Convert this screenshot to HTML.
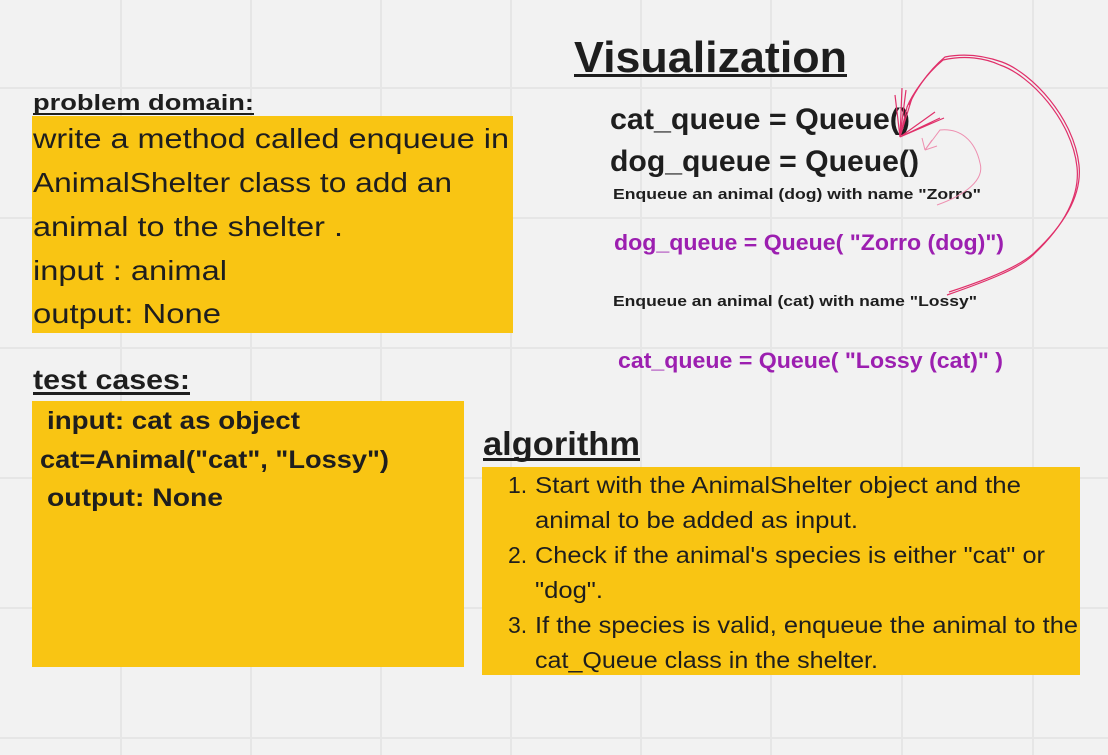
<!DOCTYPE html>
<html><head><meta charset="utf-8"><style>
html,body{margin:0;padding:0;background:#f2f2f2;}
svg{display:block}
text{font-family:"Liberation Sans","DejaVu Sans",sans-serif;}
</style></head><body>
<svg width="1108" height="755" viewBox="0 0 1108 755" xmlns="http://www.w3.org/2000/svg">
<rect width="1108" height="755" fill="#f2f2f2"/>
<g stroke="#e6e6e6" stroke-width="2">
<line x1="121" y1="0" x2="121" y2="755"/><line x1="251" y1="0" x2="251" y2="755"/><line x1="381" y1="0" x2="381" y2="755"/><line x1="511" y1="0" x2="511" y2="755"/><line x1="641" y1="0" x2="641" y2="755"/><line x1="771" y1="0" x2="771" y2="755"/><line x1="902" y1="0" x2="902" y2="755"/><line x1="1033" y1="0" x2="1033" y2="755"/>
<line x1="0" y1="88" x2="1108" y2="88"/><line x1="0" y1="218" x2="1108" y2="218"/><line x1="0" y1="348" x2="1108" y2="348"/><line x1="0" y1="478" x2="1108" y2="478"/><line x1="0" y1="608" x2="1108" y2="608"/><line x1="0" y1="738" x2="1108" y2="738"/>
</g>
<rect x="32" y="116" width="481" height="217" fill="#f9c513"/>
<rect x="32" y="401" width="432" height="266" fill="#f9c513"/>
<rect x="482" y="467" width="598" height="208" fill="#f9c513"/>

<g fill="#1e1e1e">
<text x="574" y="72" font-size="44" font-weight="bold" textLength="273" lengthAdjust="spacingAndGlyphs">Visualization</text>
<rect x="574" y="74" width="273" height="3"/>
<text x="33" y="110" font-size="22" font-weight="bold" textLength="221" lengthAdjust="spacingAndGlyphs">problem domain:</text>
<rect x="33" y="113" width="221" height="2"/>
<g font-size="28">
<text x="33" y="148" textLength="476" lengthAdjust="spacingAndGlyphs">write a method called enqueue in</text>
<text x="33" y="192" textLength="419" lengthAdjust="spacingAndGlyphs">AnimalShelter class to add an</text>
<text x="33" y="236" textLength="310" lengthAdjust="spacingAndGlyphs">animal to the shelter .</text>
<text x="33" y="280" textLength="194" lengthAdjust="spacingAndGlyphs">input : animal</text>
<text x="33" y="323" textLength="188" lengthAdjust="spacingAndGlyphs">output: None</text>
</g>
<text x="33" y="389" font-size="28" font-weight="bold" textLength="157" lengthAdjust="spacingAndGlyphs">test cases:</text>
<rect x="33" y="392" width="157" height="3"/>
<g font-size="25" font-weight="bold">
<text x="47" y="429" textLength="253" lengthAdjust="spacingAndGlyphs">input: cat as object</text>
<text x="40" y="468" textLength="349" lengthAdjust="spacingAndGlyphs">cat=Animal("cat", "Lossy")</text>
<text x="47" y="506" textLength="176" lengthAdjust="spacingAndGlyphs">output: None</text>
</g>
<text x="483" y="455" font-size="33" font-weight="bold" textLength="157" lengthAdjust="spacingAndGlyphs">algorithm</text>
<rect x="483" y="458" width="157" height="3"/>
<g font-size="23">
<text x="508" y="493">1.</text>
<text x="535" y="493" textLength="486" lengthAdjust="spacingAndGlyphs">Start with the AnimalShelter object and the</text>
<text x="535" y="528" textLength="323" lengthAdjust="spacingAndGlyphs">animal to be added as input.</text>
<text x="508" y="563">2.</text>
<text x="535" y="563" textLength="510" lengthAdjust="spacingAndGlyphs">Check if the animal's species is either "cat" or</text>
<text x="535" y="598" textLength="68" lengthAdjust="spacingAndGlyphs">"dog".</text>
<text x="508" y="633">3.</text>
<text x="535" y="633" textLength="543" lengthAdjust="spacingAndGlyphs">If the species is valid, enqueue the animal to the</text>
<text x="535" y="668" textLength="343" lengthAdjust="spacingAndGlyphs">cat_Queue class in the shelter.</text>
</g>
<g font-weight="bold">
<text x="610" y="129" font-size="30" textLength="300" lengthAdjust="spacingAndGlyphs">cat_queue = Queue()</text>
<text x="610" y="171" font-size="30" textLength="309" lengthAdjust="spacingAndGlyphs">dog_queue = Queue()</text>
<text x="613" y="199" font-size="15" textLength="368" lengthAdjust="spacingAndGlyphs">Enqueue an animal (dog) with name "Zorro"</text>
<text x="613" y="306" font-size="15" textLength="364" lengthAdjust="spacingAndGlyphs">Enqueue an animal (cat) with name "Lossy"</text>
</g>
</g>
<g fill="#9c1fb0" font-weight="bold" font-size="22">
<text x="614" y="250" textLength="390" lengthAdjust="spacingAndGlyphs">dog_queue = Queue( "Zorro (dog)")</text>
<text x="618" y="368" textLength="385" lengthAdjust="spacingAndGlyphs">cat_queue = Queue( "Lossy (cat)" )</text>
</g>
<g fill="none" stroke="#e0306a" stroke-width="1.2">
<path d="M947 295 C990 280 1020 268 1033 255 C1065 225 1080 195 1077 167 C1072 120 1030 75 1000 65 C985 58 965 55 943 60 C925 75 912 95 907 107 L900 137"/>
<path d="M949 292 C992 278 1022 265 1035 252 C1067 222 1082 193 1079 165 C1074 118 1032 73 1002 62 C985 56 965 53 945 57 C927 72 914 93 909 105"/>
<path d="M900 137 L895 95 M900 137 L902 88 M900 137 L906 90 M900 137 L912 98 M900 137 L935 112 M900 137 L940 118 M900 137 L944 118"/>
</g>
<g fill="none" stroke="#ee8fb0" stroke-width="1">
<path d="M937 205 C965 195 985 180 980 163 C975 140 960 128 940 130 L925 150"/>
<path d="M925 150 L922 138 M925 150 L932 140 M925 150 L937 146"/>
</g>
</svg>
</body></html>
